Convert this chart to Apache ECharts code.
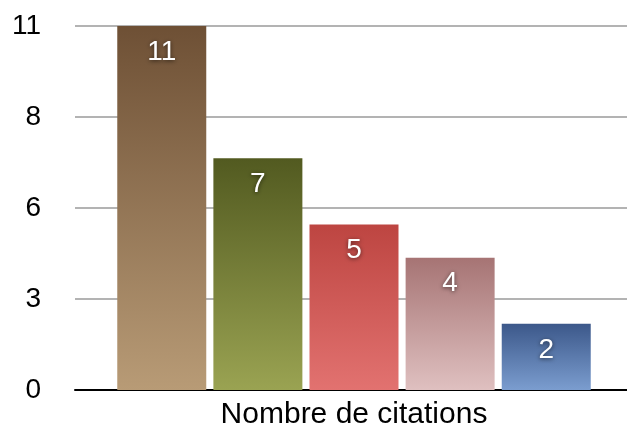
<!DOCTYPE html>
<html>
<head>
<meta charset="utf-8">
<script src="https://cdn.jsdelivr.net/npm/echarts@6/dist/echarts.min.js"></script>
<style>
  html, body { margin: 0; padding: 0; background: #fff; overflow: hidden; }
  #chart { width: 633px; height: 432px; }
</style>
</head>
<body>
<div id="chart"></div>
<script>
// data
const categories = ['Nombre de citations'];
const seriesValues = [11, 7, 5, 4, 2];
const tickLabels = ['0', '3', '6', '8', '11'];

// gradient colours per bar (top -> bottom)
const barColors = [
  ['#6e5035', '#b89b76'],
  ['#525a20', '#9aa352'],
  ['#bd4541', '#e27270'],
  ['#a67474', '#dfc0c0'],
  ['#3c588a', '#7b9dcf']
];

const font = '"Helvetica Neue", Helvetica, "Liberation Sans", Arial, sans-serif';

let chart = echarts.init(document.getElementById('chart'), null, { renderer: 'canvas' });

let series = seriesValues.map((v, i) => ({
  type: 'bar',
  data: [v],
  barWidth: 89,
  barGap: '8%',
  itemStyle: {
    color: new echarts.graphic.LinearGradient(0, 0, 0, 1, [
      { offset: 0, color: barColors[i][0] },
      { offset: 1, color: barColors[i][1] }
    ])
  },
  label: {
    show: true,
    position: 'insideTop',
    distance: 12,
    color: '#fff',
    fontSize: 28,
    fontFamily: font,
    textShadowColor: 'rgba(0,0,0,0.6)',
    textShadowBlur: 4,
    textShadowOffsetY: 1
  }
}));

// grid runs a few px past the visible 627px so the bar group sits where it does in the original
chart.setOption({
  animation: false,
  grid: { left: 75, right: 0, top: 26, bottom: 42 },
  xAxis: {
    type: 'category',
    data: categories,
    axisLine: { lineStyle: { color: '#000', width: 2 } },
    axisTick: { show: false },
    axisLabel: { color: '#000', fontSize: 30, fontFamily: font, margin: 10 }
  },
  yAxis: {
    type: 'value',
    min: 0,
    max: 11,
    interval: 2.75,
    axisLine: { show: false },
    axisTick: { show: false },
    splitLine: { lineStyle: { color: '#b3b3b3', width: 2 } },
    axisLabel: {
      color: '#000',
      fontSize: 28,
      fontFamily: font,
      margin: 34,
      formatter: (val) => tickLabels[Math.round(val / 2.75)]
    }
  },
  series: series
});
</script>
</body>
</html>
